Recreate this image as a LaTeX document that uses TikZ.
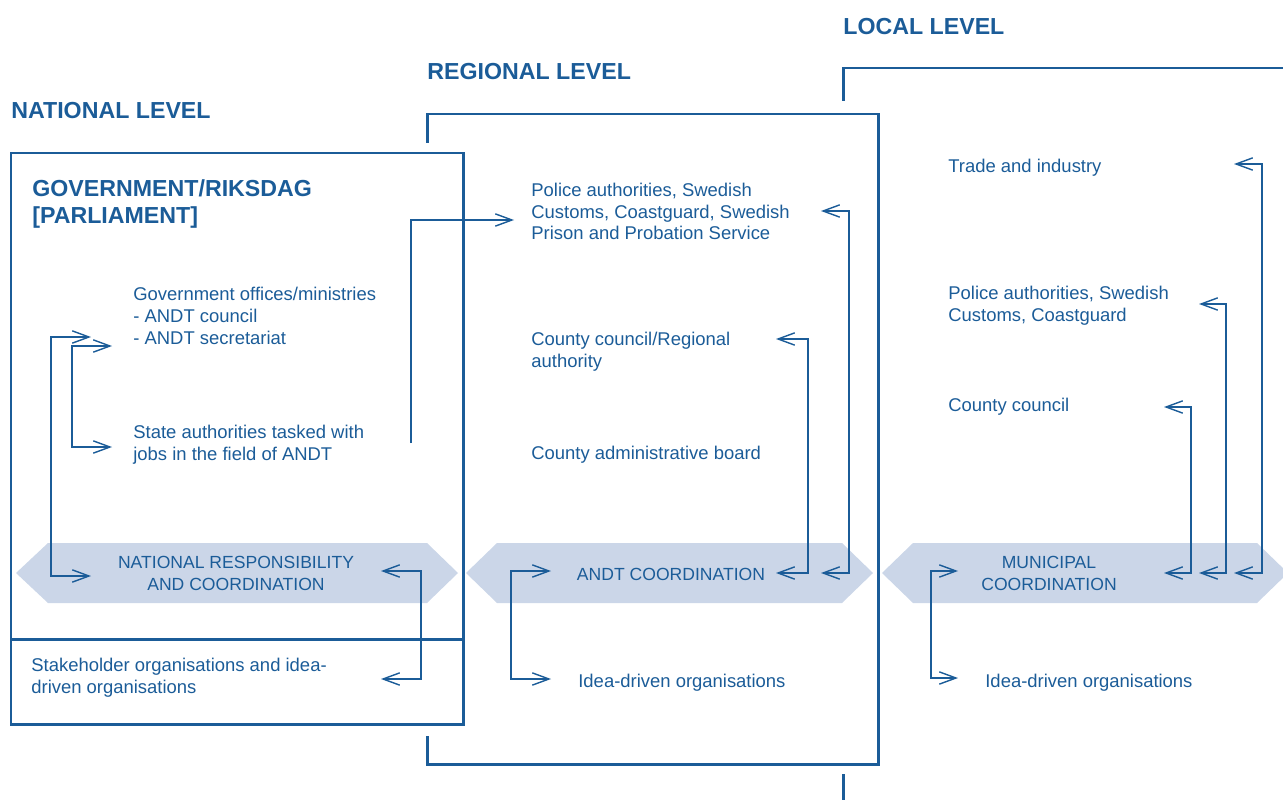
\documentclass[tikz,border=0pt]{standalone}
\usepackage{fontspec}
\setmainfont{Liberation Sans}
\usetikzlibrary{arrows.meta}
\definecolor{dblue}{HTML}{1B5C98}
\definecolor{bandfill}{HTML}{CBD6E8}
\begin{document}
\begin{tikzpicture}[x=0.02cm,y=-0.02cm,
  frame/.style={draw=dblue,line width=1.7pt},
  band/.style={fill=bandfill,draw=none},
  link/.style={draw=dblue,line width=0.8pt},
  tipped/.style={link,{Straight Barb[length=9.5pt,width=7pt]}-{Straight Barb[length=9.5pt,width=7pt]}},
  onetip/.style={link,-{Straight Barb[length=9.5pt,width=7pt]}},
  body/.style={text=dblue,font=\fontsize{10.5}{12.5}\selectfont,align=left,anchor=base west,inner sep=0pt},
  bandtxt/.style={text=dblue,font=\fontsize{10}{12}\selectfont,align=center,anchor=base,inner sep=0pt},
  level/.style={text=dblue,font=\bfseries\fontsize{13.2}{16}\selectfont,align=left,anchor=base west,inner sep=0pt}]
\useasboundingbox (0,0) rectangle (1283,800);

% bands
\path[band] (16,573) -- (48,543) -- (427,543) -- (458,573) -- (427,603) -- (48,603) -- cycle;
\path[band] (466,573) -- (497,543) -- (842,543) -- (873,573) -- (842,603) -- (497,603) -- cycle;
\path[band] (882,573) -- (913,543) -- (1257,543) -- (1288,573) -- (1257,603) -- (913,603) -- cycle;

% frames
\draw[frame] (11,153) rectangle (463,724);
\draw[frame] (11,639) -- (463,639);
\draw[frame] (427,143) -- (427,114) -- (878,114) -- (878,764) -- (427,764) -- (427,736);
\draw[frame] (843,101) -- (843,68) -- (1290,68);
\draw[frame] (843,774) -- (843,805);

% level titles (anchor = baseline of last line)
\node[level] (natlevel) at (11,119) {NATIONAL LEVEL};
\node[level] (reglevel) at (427,80) {REGIONAL LEVEL};
\node[level] (loclevel) at (843,35) {LOCAL LEVEL};

% national texts
\node[level,font=\bfseries\fontsize{13.2}{15.9}\selectfont] (gov) at (32,224) {GOVERNMENT/RIKSDAG\\{}[PARLIAMENT]};
\node[body] (offices) at (133,344) {Government offices/ministries\\- ANDT council\\- ANDT secretariat};
\node[body] (state) at (133,460) {State authorities tasked with\\jobs in the field of ANDT};
\node[bandtxt] (natcoord) at (236,590) {NATIONAL RESPONSIBILITY\\AND COORDINATION};
\node[body] (stake) at (31,693) {Stakeholder organisations and idea-\\driven organisations};

% regional texts
\node[body] (police) at (531,240) {Police authorities, Swedish\\Customs, Coastguard, Swedish\\Prison and Probation Service};
\node[body] (county) at (531,367) {County council/Regional\\authority};
\node[body] (board) at (531,459) {County administrative board};
\node[bandtxt] (andt) at (671,580) {ANDT COORDINATION};
\node[body] (ideareg) at (578,687) {Idea-driven organisations};

% local texts
\node[body] (trade) at (948,173) {Trade and industry};
\node[body] (polloc) at (948,321) {Police authorities, Swedish\\Customs, Coastguard};
\node[body] (countyloc) at (948,411) {County council};
\node[bandtxt] (muni) at (1049,590) {MUNICIPAL\\COORDINATION};
\node[body] (idealoc) at (985,687) {Idea-driven organisations};

% connector coordinates
\coordinate (a1) at (91,337);  \coordinate (a2) at (51,337);  \coordinate (a3) at (51,576);  \coordinate (a4) at (91,576);
\coordinate (b1) at (112,346); \coordinate (b2) at (72,346);  \coordinate (b3) at (72,447);  \coordinate (b4) at (112,447);
\coordinate (c1) at (411,443); \coordinate (c2) at (411,220); \coordinate (c3) at (514,220);
\coordinate (d1) at (381,571); \coordinate (d2) at (421,571); \coordinate (d3) at (421,679); \coordinate (d4) at (381,679);
\coordinate (e1) at (551,571); \coordinate (e2) at (511,571); \coordinate (e3) at (511,679); \coordinate (e4) at (551,679);
\coordinate (f1) at (821,211); \coordinate (f2) at (849,211); \coordinate (f3) at (849,573); \coordinate (f4) at (821,573);
\coordinate (g1) at (776,339); \coordinate (g2) at (808,339); \coordinate (g3) at (808,573); \coordinate (g4) at (776,573);
\coordinate (h1) at (958,571); \coordinate (h2) at (931,571); \coordinate (h3) at (931,678); \coordinate (h4) at (958,678);
\coordinate (i1) at (1234,164); \coordinate (i2) at (1262,164); \coordinate (i3) at (1262,573); \coordinate (i4) at (1234,573);
\coordinate (j1) at (1199,304); \coordinate (j2) at (1226,304); \coordinate (j3) at (1226,573); \coordinate (j4) at (1199,573);
\coordinate (k1) at (1164,407); \coordinate (k2) at (1191,407); \coordinate (k3) at (1191,573); \coordinate (k4) at (1164,573);

% connectors
\draw[tipped] (a1) -- (a2) -- (a3) -- (a4);
\draw[tipped] (b1) -- (b2) -- (b3) -- (b4);
\draw[onetip] (c1) -- (c2) -- (c3);
\draw[tipped] (d1) -- (d2) -- (d3) -- (d4);
\draw[tipped] (e1) -- (e2) -- (e3) -- (e4);
\draw[tipped] (f1) -- (f2) -- (f3) -- (f4);
\draw[tipped] (g1) -- (g2) -- (g3) -- (g4);
\draw[tipped] (h1) -- (h2) -- (h3) -- (h4);
\draw[tipped] (i1) -- (i2) -- (i3) -- (i4);
\draw[tipped] (j1) -- (j2) -- (j3) -- (j4);
\draw[tipped] (k1) -- (k2) -- (k3) -- (k4);
\end{tikzpicture}
\end{document}
